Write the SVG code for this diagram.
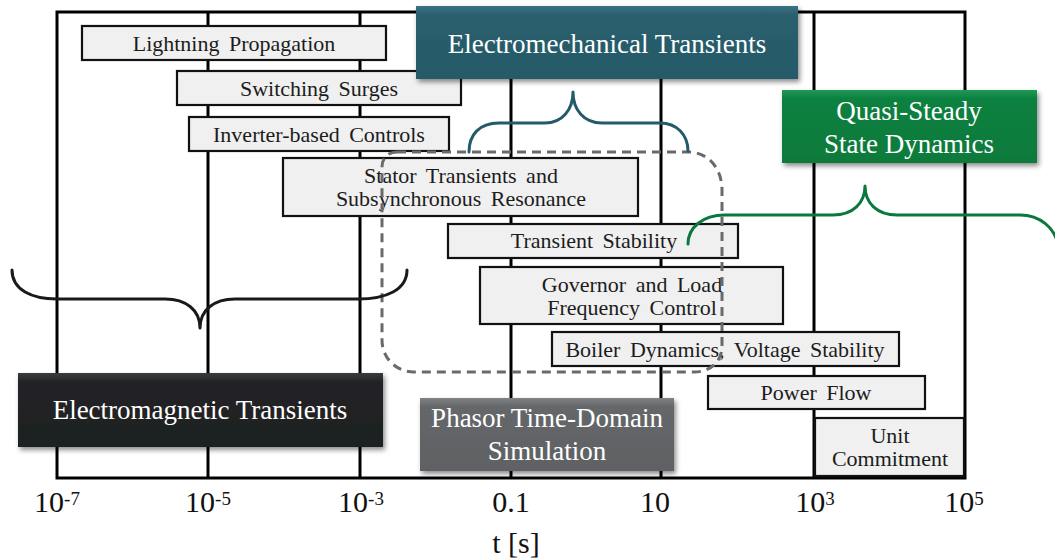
<svg xmlns="http://www.w3.org/2000/svg" width="1055" height="560" viewBox="0 0 1055 560">
  <style>
    .grid { stroke: #000; stroke-width: 3; fill: none; }
    .box rect { fill: #f0f0f0; stroke: #111; stroke-width: 2.2; }
    .box text { font-family: "Liberation Serif", "Times New Roman", serif; font-size: 22px; fill: #1c1c1c; text-anchor: middle; word-spacing: 4px; }
    .band text { font-family: "Liberation Serif", "Times New Roman", serif; font-size: 27px; fill: #ffffff; text-anchor: middle; }
    .axis { font-family: "Liberation Serif", "Times New Roman", serif; font-size: 30px; fill: #111; text-anchor: middle; }
    .brace { fill: none; stroke-width: 3; stroke-linecap: round; stroke-linejoin: round; }
  </style>
  <defs>
    <filter id="shadow" x="-10%" y="-20%" width="125%" height="150%">
      <feDropShadow dx="2" dy="3" stdDeviation="2.5" flood-color="#000" flood-opacity="0.45"/>
    </filter>
    <linearGradient id="gTeal" x1="0" y1="0" x2="0" y2="1">
      <stop offset="0" stop-color="#3a7384"/>
      <stop offset="0.12" stop-color="#2a5f6e"/>
      <stop offset="1" stop-color="#265a68"/>
    </linearGradient>
    <linearGradient id="gGreen" x1="0" y1="0" x2="0" y2="1">
      <stop offset="0" stop-color="#1f9a55"/>
      <stop offset="0.12" stop-color="#0a8140"/>
      <stop offset="1" stop-color="#077a3b"/>
    </linearGradient>
    <linearGradient id="gBlack" x1="0" y1="0" x2="0" y2="1">
      <stop offset="0" stop-color="#3a3c3e"/>
      <stop offset="0.12" stop-color="#222426"/>
      <stop offset="1" stop-color="#1e2022"/>
    </linearGradient>
    <linearGradient id="gGrey" x1="0" y1="0" x2="0" y2="1">
      <stop offset="0" stop-color="#808285"/>
      <stop offset="0.12" stop-color="#656769"/>
      <stop offset="1" stop-color="#5f6163"/>
    </linearGradient>
  </defs>

  <rect width="1055" height="560" fill="#ffffff"/>

  <!-- time axis frame and decade gridlines -->
  <g id="frame">
    <rect class="grid" x="57" y="12" width="908" height="466"/>
    <line class="grid" x1="208" y1="12" x2="208" y2="478"/>
    <line class="grid" x1="360" y1="12" x2="360" y2="478"/>
    <line class="grid" x1="511" y1="12" x2="511" y2="478"/>
    <line class="grid" x1="661" y1="12" x2="661" y2="478"/>
    <line class="grid" x1="814" y1="12" x2="814" y2="478" stroke-width="3.5"/>
  </g>

  <!-- axis labels -->
  <g id="axis-labels">
    <text class="axis" x="57" y="512">10<tspan font-size="19" dy="-7">-7</tspan></text>
    <text class="axis" x="208" y="512">10<tspan font-size="19" dy="-7">-5</tspan></text>
    <text class="axis" x="361" y="512">10<tspan font-size="19" dy="-7">-3</tspan></text>
    <text class="axis" x="511" y="512">0.1</text>
    <text class="axis" x="655" y="512">10</text>
    <text class="axis" x="815" y="512">10<tspan font-size="19" dy="-7">3</tspan></text>
    <text class="axis" x="964" y="512">10<tspan font-size="19" dy="-7">5</tspan></text>
    <text class="axis" x="516" y="553" font-size="26">t [s]</text>
  </g>

  <!-- phenomena bars -->
  <g id="lightning-propagation" class="box">
    <rect x="82" y="26" width="304" height="34"/>
    <text x="234" y="51">Lightning Propagation</text>
  </g>
  <g id="switching-surges" class="box">
    <rect x="177" y="71" width="284" height="34"/>
    <text x="319" y="96">Switching Surges</text>
  </g>
  <g id="inverter-controls" class="box">
    <rect x="189" y="117" width="260" height="34"/>
    <text x="319" y="142">Inverter-based Controls</text>
  </g>
  <g id="stator-transients" class="box">
    <rect x="283" y="158" width="355" height="58"/>
    <text x="461" y="183">Stator Transients and</text>
    <text x="461" y="206">Subsynchronous Resonance</text>
  </g>
  <g id="transient-stability" class="box">
    <rect x="448" y="224" width="290" height="34"/>
    <text x="594" y="248">Transient Stability</text>
  </g>
  <g id="governor-lfc" class="box">
    <rect x="480" y="267" width="303" height="57"/>
    <text x="632" y="292">Governor and Load</text>
    <text x="632" y="315">Frequency Control</text>
  </g>
  <g id="boiler-voltage" class="box">
    <rect x="552" y="332" width="347" height="34"/>
    <text x="725" y="357">Boiler Dynamics, Voltage Stability</text>
  </g>
  <g id="power-flow" class="box">
    <rect x="708" y="376" width="217" height="33"/>
    <text x="816" y="400">Power Flow</text>
  </g>
  <g id="unit-commitment" class="box">
    <rect x="815" y="418" width="149" height="58"/>
    <text x="890" y="443">Unit</text>
    <text x="890" y="466">Commitment</text>
  </g>

  <!-- simulation domain bands -->
  <g id="electromechanical" class="band">
    <rect x="416" y="6" width="382" height="73" fill="url(#gTeal)" filter="url(#shadow)"/>
    <text x="607" y="53">Electromechanical Transients</text>
  </g>
  <g id="quasi-steady" class="band">
    <rect x="782" y="90" width="255" height="73" fill="url(#gGreen)" filter="url(#shadow)"/>
    <text x="909" y="120">Quasi-Steady</text>
    <text x="909" y="153">State Dynamics</text>
  </g>
  <g id="electromagnetic" class="band">
    <rect x="18" y="373" width="365" height="74" fill="url(#gBlack)" filter="url(#shadow)"/>
    <text x="200" y="419">Electromagnetic Transients</text>
  </g>
  <g id="phasor-td" class="band">
    <rect x="420" y="398" width="254" height="73" fill="url(#gGrey)" filter="url(#shadow)"/>
    <text x="547" y="427">Phasor Time-Domain</text>
    <text x="547" y="460">Simulation</text>
  </g>

  <!-- braces and phasor-domain outline -->
  <g id="connectors">
    <path d="M397,152 L688,152 C708,152 722,168 722,190 L722,346 C722,362 710,372 694,372 L414,372 C396,372 382,358 382,340 L382,167 C382,158 388,152 397,152 Z"
          fill="none" stroke="#6a6a6a" stroke-width="3" stroke-dasharray="9 6"/>
    <path class="brace" stroke="#1a1a1a"
          d="M12,270 C12,290 32,299 57,299 L165,299 C186,299 200,310 200,328 C200,310 214,299 235,299 L358,299 C386,299 407,290 407,270"/>
    <path class="brace" stroke="#255a6a"
          d="M469,152 C469,135 479,123 499,123 L545,123 C562,123 573,110 573,92 C573,110 584,123 602,123 L660,123 C677,123 688,135 688,151"/>
    <path class="brace" stroke="#08783c"
          d="M688,244 C688,228 702,215 725,215 L833,215 C853,215 865,203 865,186 C865,203 877,215 897,215 L1020,215 C1040,215 1055,228 1058,245"/>
  </g>
</svg>
